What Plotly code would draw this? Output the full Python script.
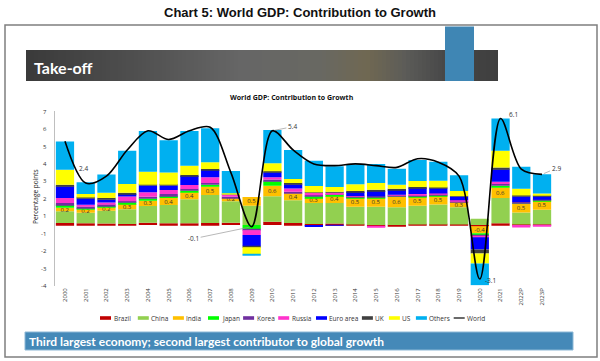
import plotly.graph_objects as go

years = ["2000","2001","2002","2003","2004","2005","2006","2007","2008","2009","2010","2011",
         "2012","2013","2014","2015","2016","2017","2018","2019","2020","2021","2022P","2023P"]

brazil = [0.11,0.10,0.08,0.06,0.13,0.10,0.10,0.11,0.12,0.00,0.19,0.11,0.05,0.08,0.02,-0.10,-0.06,0.02,0.03,0.02,-0.08,0.10,0.03,0.02]
china  = [0.67,0.60,0.74,0.84,0.96,1.04,1.37,1.60,1.24,1.10,1.46,1.31,1.21,1.18,1.02,1.04,1.02,1.08,1.14,0.99,0.35,1.45,0.69,0.85]
india  = [0.2,0.2,0.2,0.3,0.3,0.4,0.4,0.5,0.2,0.5,0.6,0.4,0.3,0.4,0.5,0.5,0.6,0.5,0.5,0.3,-0.4,0.6,0.5,0.5]
japan  = [0.18,0.08,0.06,0.10,0.13,0.13,0.11,0.10,0.00,-0.25,0.25,0.00,0.08,0.08,0.03,0.05,0.04,0.07,0.03,0.00,-0.13,0.10,0.05,0.04]
korea  = [0.10,0.08,0.10,0.06,0.10,0.10,0.08,0.10,0.05,-0.05,0.10,0.08,0.06,0.05,0.05,0.05,0.05,0.05,0.05,0.04,-0.03,0.10,0.04,0.04]
russia = [0.28,0.10,0.11,0.27,0.25,0.23,0.23,0.32,0.13,-0.27,0.13,0.19,0.15,0.07,0.04,-0.06,0.02,0.05,0.05,0.06,-0.07,0.13,-0.15,-0.05]
euro   = [0.68,0.36,0.17,0.15,0.38,0.25,0.51,0.42,0.04,-0.63,0.29,0.25,-0.12,-0.03,0.23,0.30,0.29,0.36,0.30,0.21,-0.70,0.72,0.32,0.19]
uk     = [0.08,0.06,0.08,0.06,0.06,0.06,0.06,0.06,0.00,-0.08,0.06,0.06,0.03,0.04,0.06,0.08,0.05,0.05,0.05,0.04,-0.23,0.10,0.06,0.04]
us     = [0.86,0.20,0.30,0.51,0.74,0.70,0.53,0.38,0.04,-0.42,0.46,0.23,0.35,0.27,0.38,0.38,0.23,0.34,0.38,0.29,-0.57,0.95,0.38,0.13]
others = [1.63,0.67,1.05,1.90,2.34,1.85,2.00,1.96,1.28,-0.03,1.90,1.66,1.45,1.20,1.14,1.10,0.92,1.20,1.10,0.90,-1.24,1.85,1.26,1.09]
world  = [4.8,2.4,2.8,4.3,5.4,4.9,5.4,5.6,3.0,-0.1,5.4,4.3,3.5,3.4,3.5,3.4,3.3,3.8,3.6,2.8,-3.1,6.1,3.2,2.9]
india_labels = ["0.2","0.2","0.2","0.3","0.3","0.4","0.4","0.5","0.2","0.5","0.6","0.4","0.3","0.4","0.5","0.5","0.6","0.5","0.5","0.3","-0.4","0.6","0.5","0.5"]

ytick_vals = [6.5,5.5,4.5,3.5,2.5,1.5,0.5,-0.5,-1.5,-2.5,-3.5]
ytick_text = ["7","6","5","4","3","2","1","-1","-2","-3","-4"]

series = [("Brazil", brazil, "#C00000"), ("China", china, "#92D050"), ("India", india, "#FFC000"),
          ("Japan", japan, "#00FF00"), ("Korea", korea, "#7030A0"), ("Russia", russia, "#FF33CC"),
          ("Euro area", euro, "#0000FF"), ("UK", uk, "#404040"), ("US", us, "#FFFF00"),
          ("Others", others, "#00B0F0")]

W, H = 600, 361
def px(x): return x / W
def py(y): return 1 - y / H

FONT = "Open Sans"
fig = go.Figure()
for name, vals, col in series:
    kw = {}
    if name == "India":
        kw = dict(text=india_labels, textposition="inside", insidetextanchor="middle",
                  textangle=0, constraintext="none",
                  textfont=dict(size=6, color="#333333", family=FONT))
    fig.add_trace(go.Bar(x=years, y=vals, name=name, marker=dict(color=col, line=dict(width=0)),
                         hoverinfo="skip", showlegend=False, **kw))
fig.add_trace(go.Scatter(x=years, y=world, name="World", mode="lines", showlegend=False,
                         hoverinfo="skip",
                         line=dict(color="black", width=1.6, shape="spline", smoothing=0.9)))

shapes = []
ann = []
# outer frame
shapes.append(dict(type="rect", xref="paper", yref="paper", x0=px(5), x1=px(597), y0=py(357), y1=py(25),
                   line=dict(color="#7F7F7F", width=1.5), fillcolor="rgba(0,0,0,0)", layer="below"))
# banner gradient
stops = [(26,(58,58,58)),(140,(80,80,80)),(240,(102,102,102)),(320,(104,104,98)),(367,(112,104,82)),
         (405,(92,92,88)),(445,(72,72,72)),(498,(62,62,62))]
def gcol(x):
    for (xa,ca),(xb,cb) in zip(stops[:-1], stops[1:]):
        if xa <= x <= xb:
            t = (x-xa)/(xb-xa)
            return "rgb(%d,%d,%d)" % tuple(round(ca[i]+(cb[i]-ca[i])*t) for i in range(3))
    return "rgb(62,62,62)"
x = 26
while x < 498:
    x2 = min(x+4, 498)
    shapes.append(dict(type="rect", xref="paper", yref="paper", x0=px(x), x1=px(min(x2+1,498)),
                       y0=py(81), y1=py(50), line=dict(width=0), fillcolor=gcol(x+2), layer="below"))
    x = x2
# blue tab
shapes.append(dict(type="rect", xref="paper", yref="paper", x0=px(445), x1=px(474), y0=py(81), y1=py(26.5),
                   line=dict(width=0), fillcolor="#3F86B4", layer="below"))
# bottom banner
shapes.append(dict(type="rect", xref="paper", yref="paper", x0=px(25), x1=px(573), y0=py(350), y1=py(332),
                   line=dict(color="#8DB8D6", width=1), fillcolor="#4589B8", layer="below"))

# custom legend (Excel style wide swatches)
LEG_Y = 318
lx = 100
legend_items = [(n, c) for n, _, c in series] + [("World", "black")]
for name, col in legend_items:
    if name == "World":
        shapes.append(dict(type="line", xref="paper", yref="paper", x0=px(lx), x1=px(lx+11),
                           y0=py(LEG_Y), y1=py(LEG_Y), line=dict(color="#444444", width=1.6)))
    else:
        shapes.append(dict(type="rect", xref="paper", yref="paper", x0=px(lx), x1=px(lx+11),
                           y0=py(LEG_Y+1.8), y1=py(LEG_Y-1.8), line=dict(width=0), fillcolor=col))
    ann.append(dict(text=name, xref="paper", yref="paper", x=px(lx+11.5), y=py(LEG_Y), xanchor="left",
                    yanchor="middle", showarrow=False, font=dict(family=FONT, size=6.5, color="#333333")))
    lx += 11 + 2.7 * len(name) + 10.6

ann.append(dict(text="<b>Chart 5: World GDP: Contribution to Growth</b>", xref="paper", yref="paper",
                x=0.5, y=py(13), xanchor="center", yanchor="middle", showarrow=False,
                font=dict(family="Liberation Sans", size=13, color="#111111")))
ann.append(dict(text="<b>Take-off</b>", xref="paper", yref="paper", x=px(32), y=py(67), xanchor="left",
                yanchor="middle", showarrow=False, font=dict(family="Lato", size=16, color="white")))
ann.append(dict(text="<b>Third largest economy; second largest contributor to global growth</b>",
                xref="paper", yref="paper", x=px(27), y=py(341), xanchor="left", yanchor="middle",
                showarrow=False, font=dict(family="Lato", size=12, color="white")))
ann.append(dict(text="<b>World GDP: Contribution to Growth</b>", xref="paper", yref="paper",
                x=px(292), y=py(97), xanchor="center", yanchor="middle", showarrow=False,
                font=dict(family=FONT, size=7, color="#111111")))
ann.append(dict(text="Percentage points", xref="paper", yref="paper", x=px(35), y=py(197),
                xanchor="center", yanchor="middle", textangle=-90, showarrow=False,
                font=dict(family=FONT, size=6.5, color="#222222")))

lab_font = dict(family=FONT, size=6.5, color="#333333")
def wlab(i, dx, dy, arrow=False):
    d = dict(x=i, y=world[i], xref="x", yref="y", text="%.1f" % world[i], font=lab_font)
    if arrow:
        d.update(showarrow=True, arrowhead=0, arrowwidth=0.7, arrowcolor="#999999", ax=dx, ay=dy,
                 standoff=2)
    else:
        d.update(showarrow=False, xshift=dx, yshift=dy)
    return d
ann.append(wlab(1, -2, 15))
ann.append(wlab(9, -58, 12, True))
ann.append(wlab(10, 20, -4, True))
ann.append(wlab(20, 11, -1))
ann.append(wlab(21, 13, 4))
ann.append(wlab(23, 14, -6, True))

fig.update_layout(
    width=W, height=H, margin=dict(l=0, r=0, t=0, b=0, autoexpand=False),
    paper_bgcolor="white", plot_bgcolor="white",
    barmode="relative", bargap=0.12,
    font=dict(family=FONT, size=6, color="#333333"),
    shapes=shapes, annotations=ann,
    showlegend=False, hovermode=False,
    xaxis=dict(type="category", domain=[px(54.6), px(552.4)], range=[-0.5, 23.5], tickangle=-90,
               tickfont=dict(size=6, color="#333333"), showline=False, ticks="",
               showgrid=False, zeroline=False, automargin=False, fixedrange=True),
    yaxis=dict(range=[-3.5, 6.55], domain=[py(286), py(110.7)], tickvals=ytick_vals,
               ticktext=ytick_text, tickfont=dict(size=6, color="#333333"), showline=True,
               linecolor="#BFBFBF", linewidth=1, showgrid=False, zeroline=False, ticks="",
               ticklabelstandoff=6, automargin=False, fixedrange=True),
)
fig.write_html("out.html", config={"displayModeBar": False},
               post_script="document.body.style.margin='0';document.body.style.overflow='hidden';")
